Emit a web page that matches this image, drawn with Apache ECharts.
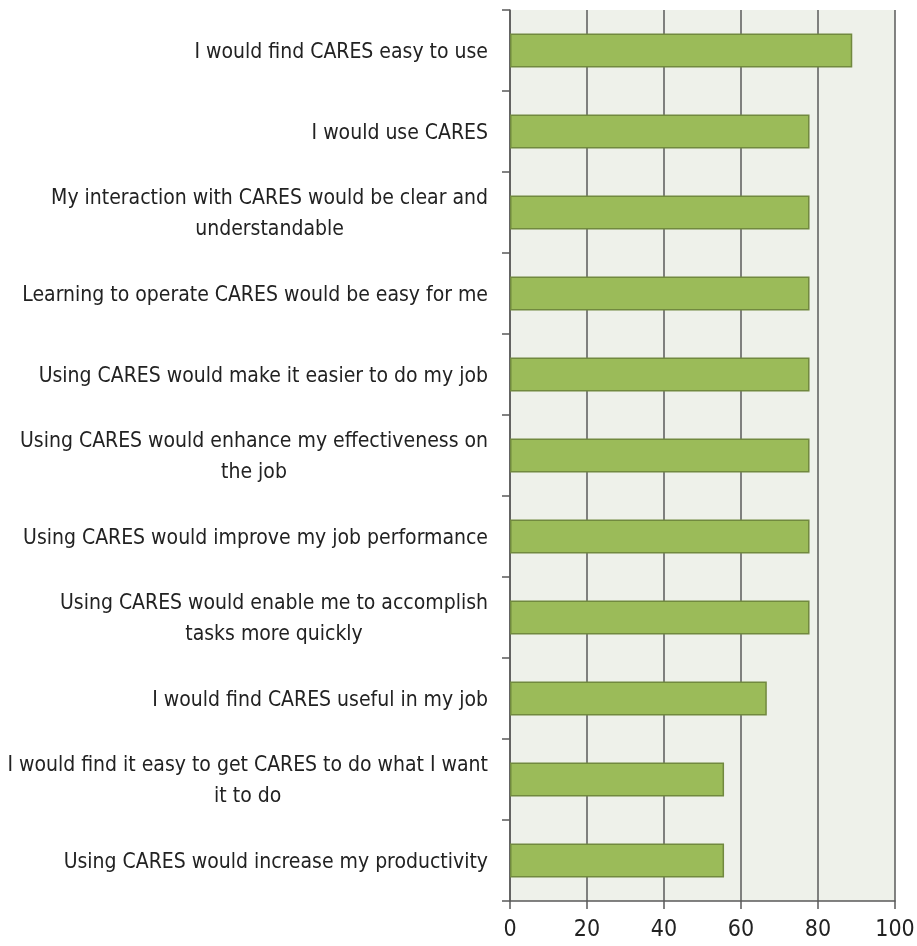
<!DOCTYPE html>
<html><head><meta charset="utf-8">
<script src="https://cdn.jsdelivr.net/npm/echarts@6/dist/echarts.min.js"></script>
<style>html,body{margin:0;padding:0;background:#fff}#c{width:917px;height:946px}</style>
</head><body><div id="c"></div>
<script>
var categories = [
  "I would find CARES easy to use",
  "I would use CARES",
  "My interaction with CARES would be clear and\nunderstandable",
  "Learning to operate CARES would be easy for me",
  "Using CARES would make it easier to do my job",
  "Using CARES would enhance my effectiveness on\nthe job",
  "Using CARES would improve my job performance",
  "Using CARES would enable me to accomplish\ntasks more quickly",
  "I would find CARES useful in my job",
  "I would find it easy to get CARES to do what I want\nit to do",
  "Using CARES would increase my productivity"
];
var values = [88.9, 77.8, 77.8, 77.8, 77.8, 77.8, 77.8, 77.8, 66.7, 55.6, 55.6];
var xTicks = [0, 20, 40, 60, 80, 100];

var FONT = '"DejaVu Sans Condensed", "Liberation Sans Narrow", sans-serif';
var chart = echarts.init(document.getElementById('c'));
chart.setOption({
  animation: false,
  grid: { left: 510, right: 22, top: 10, bottom: 45, show: true, backgroundColor: '#eef1ea', borderWidth: 0, containLabel: false, outerBoundsMode: 'none' },
  xAxis: {
    type: 'value', min: xTicks[0], max: xTicks[xTicks.length - 1], interval: 20,
    axisLine: { show: true, lineStyle: { color: '#5a5a5a', width: 1.5 } },
    axisTick: { show: true, length: 8, lineStyle: { color: '#5a5a5a', width: 1.5 } },
    splitLine: { show: true, lineStyle: { color: '#5a5a5a', width: 1.5 } },
    axisLabel: { fontFamily: FONT, fontSize: 23, color: '#222', margin: 18 }
  },
  yAxis: {
    type: 'category', data: categories, inverse: true,
    axisLine: { show: true, lineStyle: { color: '#5a5a5a', width: 1.5 } },
    axisTick: { show: true, length: 8, alignWithLabel: false, lineStyle: { color: '#5a5a5a', width: 1.5 } },
    splitLine: { show: false },
    axisLabel: {
      margin: 22, interval: 0, padding: [4, 0, 0, 0],
      formatter: function (v) {
        return v.split('\n').map(function (s) { return '{c|' + s + '}'; }).join('\n');
      },
      rich: { c: { align: 'center', fontFamily: FONT, fontSize: 21, color: '#222', lineHeight: 31 } }
    }
  },
  series: [{
    type: 'bar', data: values, barCategoryGap: '58%',
    itemStyle: { color: '#9bbb59', borderColor: '#71893f', borderWidth: 1.5 }
  }]
});
</script></body></html>
